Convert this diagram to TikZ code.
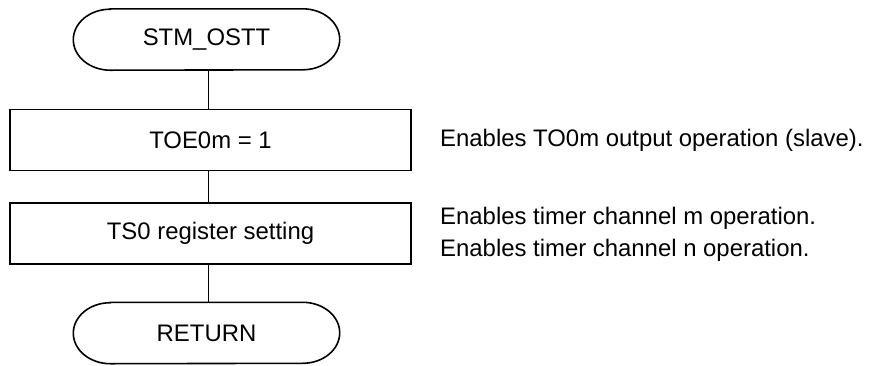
\documentclass[tikz,border=0pt]{standalone}
\usepackage{fontspec}
\setmainfont{Liberation Sans}
\usetikzlibrary{calc}
\begin{document}
\begin{tikzpicture}[x=1pt,y=-1pt,
  every node/.style={font=\fontsize{23.9}{32}\selectfont},
  boxnode/.style={draw,line width=1.6pt,minimum width=401pt,minimum height=61pt,inner sep=0pt},
  termnode/.style={minimum width=266pt,minimum height=61pt,inner sep=0pt},
  termline/.style={line width=1.6pt},
  conn/.style={line width=1.6pt},
  note/.style={anchor=west,align=left,inner sep=0pt}
]
\useasboundingbox (0,0) rectangle (872,365);
\node[termnode] (start) at (206.5,39.5) {STM\_OSTT};
\node[boxnode] (b1) at (210.5,140) {TOE0m = 1};
\node[boxnode] (b2) at (210.5,233.5) {TS0 register setting};
\node[termnode] (ret) at (206.5,333) {RETURN};
% terminal outlines
\foreach \t in {start,ret}{
  \draw[termline] ($(\t.north west)+(37pt,0)$) -- ($(\t.north east)+(-37pt,0)$)
    arc[start angle=90,end angle=-90,x radius=37pt,y radius=30.5pt]
    -- ($(\t.south west)+(37pt,0)$)
    arc[start angle=270,end angle=90,x radius=37pt,y radius=30.5pt] -- cycle;
}
\coordinate (s1) at (208.3,0);
\draw[conn] (s1 |- start.south) -- (s1 |- b1.north);
\draw[conn] (s1 |- b1.south) -- (s1 |- b2.north);
\draw[conn] (s1 |- b2.south) -- (s1 |- ret.north);
\node[note] (n1) at (440,140) {Enables TO0m output operation (slave).};
\node[note] (n2) at (440,234) {Enables timer channel m operation.\\Enables timer channel n operation.};
\end{tikzpicture}
\end{document}
